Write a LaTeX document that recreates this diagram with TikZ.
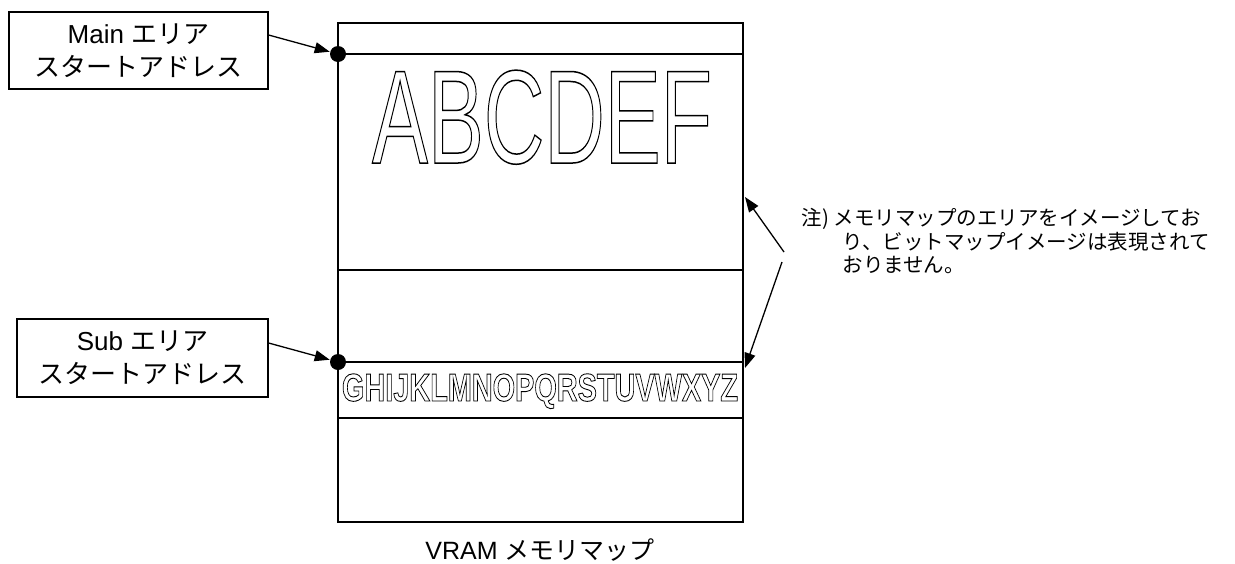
\documentclass[tikz,border=0pt]{standalone}
\usepackage{graphicx}
\usepackage{fontspec}
\setmainfont{Liberation Sans}
\newfontfamily\cjk{Noto Sans CJK JP}
\usetikzlibrary{arrows.meta}
\newcommand\outlinetext[2]{\special{pdf:literal #1 w 1 Tr}#2\special{pdf:literal 0 Tr}}
\begin{document}
\begin{tikzpicture}[x=1pt,y=-1pt,line width=1.2pt,
  lbl/.style={draw,line width=1.2pt,align=center,inner sep=0pt,
    font=\fontsize{26}{33}\selectfont},
  arr/.style={-{Triangle[length=15pt,width=11pt]},line width=1.3pt},
  dotc/.style={circle,fill=black,minimum size=16pt,inner sep=0pt},
  frame/.style={draw,line width=1.2pt,inner sep=0pt,minimum width=405pt,minimum height=499pt}]
\useasboundingbox (0,0) rectangle (1235,563);
% memory map frame
\node[frame] (vram) at (540.5,272.5) {};
\coordinate (l1a) at (338,54);  \coordinate (l1b) at (743,54);
\coordinate (l2a) at (338,270); \coordinate (l2b) at (743,270);
\coordinate (l3a) at (338,362); \coordinate (l3b) at (743,362);
\coordinate (l4a) at (338,418); \coordinate (l4b) at (743,418);
\draw (l1a) -- (l1b);
\draw (l2a) -- (l2b);
\draw (l3a) -- (l3b);
\draw (l4a) -- (l4b);
% big outlined text
\node[inner sep=0pt,anchor=base] (abc) at (542,163)
  {\scalebox{0.63}[1]{\fontsize{133}{133}\selectfont\outlinetext{1.5}{ABCDEF}}};
\node[inner sep=0pt,anchor=base] (ghi) at (540,401)
  {\scalebox{0.74}[1]{\fontsize{39}{39}\selectfont\bfseries\outlinetext{0.9}{GHIJKLMNOPQRSTUVWXYZ}}};
% labels
\node[lbl,minimum width=259pt,minimum height=77pt] (mainlbl) at (138.5,50.5)
  {Main {\cjk エリア}\\{\cjk スタートアドレス}};
\node[lbl,minimum width=251pt,minimum height=78pt] (sublbl) at (142.5,358)
  {Sub {\cjk エリア}\\{\cjk スタートアドレス}};
\node[dotc] (mdot) at (338,54) {};
\node[dotc] (sdot) at (338,362) {};
\draw[arr] ([yshift=15.5pt]mainlbl.east) -- (mdot);
\draw[arr] ([yshift=15pt]sublbl.east) -- (sdot);
% note
\node[inner sep=0pt,anchor=north west,align=left,
  font=\cjk\fontsize{20.5}{23.5}\selectfont] (note) at (801,208)
  {注) メモリマップのエリアをイメージしてお\\
   \hspace*{41pt}り、ビットマップイメージは表現されて\\
   \hspace*{41pt}おりません。};
\coordinate (t1) at (784,252);
\coordinate (h1) at (745,197);
\coordinate (t2) at (782,262);
\coordinate (h2) at (745,368);
\draw[arr] (t1) -- (h1);
\draw[arr] (t2) -- (h2);
% caption
\node[inner sep=0pt,font=\fontsize{25}{30}\selectfont] (cap) at (540,550)
  {VRAM {\cjk メモリマップ}};
\end{tikzpicture}
\end{document}
